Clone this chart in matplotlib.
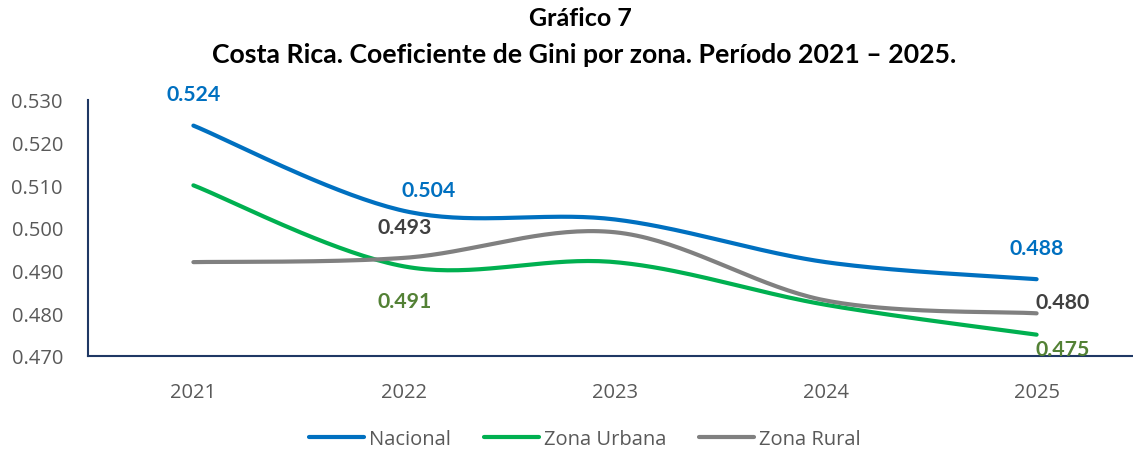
import numpy as np
import matplotlib
matplotlib.use("Agg")
import matplotlib.pyplot as plt
from matplotlib.lines import Line2D

years = ["2021", "2022", "2023", "2024", "2025"]
nacional = [0.524, 0.504, 0.502, 0.492, 0.488]
urbana = [0.510, 0.491, 0.492, 0.482, 0.475]
rural = [0.492, 0.493, 0.499, 0.483, 0.480]
yticks = [0.470, 0.480, 0.490, 0.500, 0.510, 0.520, 0.530]

plt.rcParams['font.family'] = ['Open Sans', 'DejaVu Sans']
BOLD = ['Lato', 'DejaVu Sans']

def smooth(xs, ys, n=40):
    P = np.column_stack([xs, ys]).astype(float)
    P = np.vstack([P[0], P, P[-1]])
    out = []
    for i in range(1, len(P) - 2):
        p0, p1, p2, p3 = P[i - 1], P[i], P[i + 1], P[i + 2]
        b1 = p1 + (p2 - p0) / 6
        b2 = p2 - (p3 - p1) / 6
        t = np.linspace(0, 1, n)[:, None]
        seg = (1 - t) ** 3 * p1 + 3 * (1 - t) ** 2 * t * b1 + 3 * (1 - t) * t ** 2 * b2 + t ** 3 * p2
        out.append(seg if i == 1 else seg[1:])
    s = np.vstack(out)
    return s[:, 0], s[:, 1]

W, H = 1133, 452
fig = plt.figure(figsize=(W / 100, H / 100), dpi=100)
left, right, top, bottom = 88, 1142, 101, 357
ax = fig.add_axes([left / W, 1 - bottom / H, (right - left) / W, (bottom - top) / H])

x = np.arange(len(years))
series = [
    ("Nacional", nacional, "#0070C0", "#0070C0", [(0, 32), (24, 21), None, None, (0, 31)]),
    ("Zona Urbana", urbana, "#00B050", "#538135", [None, (0, -35), None, None, (26, -14)]),
    ("Zona Rural", rural, "#808080", "#404040", [None, (0, 31), None, None, (26, 11)]),
]
handles = []
for name, vals, col, lcol, offs in series:
    sx, sy = smooth(x, vals)
    ax.plot(sx, sy, color=col, lw=3.0, solid_capstyle='round', zorder=3)
    handles.append(Line2D([0], [0], color=col, lw=3.0, solid_capstyle='round'))
    for i, off in enumerate(offs):
        if off is None:
            continue
        ax.annotate(f"{vals[i]:.3f}", (x[i], vals[i]), xytext=(off[0] * 0.72, off[1] * 0.72),
                    textcoords='offset points', ha='center', va='center',
                    fontsize=15.3, fontweight='bold', family=BOLD, color=lcol, zorder=4,
                    annotation_clip=False)

ax.set_xlim(-0.5, len(years) - 0.5)
ax.set_ylim(0.470, 0.530)
ax.set_yticks(yticks)
ax.set_yticklabels([f"{v:.3f}" for v in yticks])
ax.set_xticks(x)
ax.set_xticklabels(years)
for s in ['top', 'right']:
    ax.spines[s].set_visible(False)
for s in ['left', 'bottom']:
    ax.spines[s].set_color('#1F3864')
    ax.spines[s].set_linewidth(1.5)
ax.tick_params(axis='both', length=0, labelsize=14.5, colors='#595959')
ax.tick_params(axis='y', pad=18)
ax.tick_params(axis='x', pad=19)

fig.text(580 / W, 1 - 18 / H, "Gráfico 7", ha='center', va='center', fontsize=18,
         fontweight='bold', family=BOLD, color='black')
fig.text(584 / W, 1 - 55 / H, "Costa Rica. Coeficiente de Gini por zona. Período 2021 – 2025.",
         ha='center', va='center', fontsize=19.2, fontweight='bold', family=BOLD, color='black')

fs = 14.5
leg = fig.legend(handles, ["Nacional", "Zona Urbana", "Zona Rural"], loc='center',
                 bbox_to_anchor=(585 / W, 1 - 440 / H), ncol=3, frameon=False,
                 fontsize=fs, handlelength=39.6 / fs, handletextpad=3.6 / fs,
                 columnspacing=23.8 / fs)
for t in leg.get_texts():
    t.set_color('#595959')

fig.savefig("out.png", dpi=100)
